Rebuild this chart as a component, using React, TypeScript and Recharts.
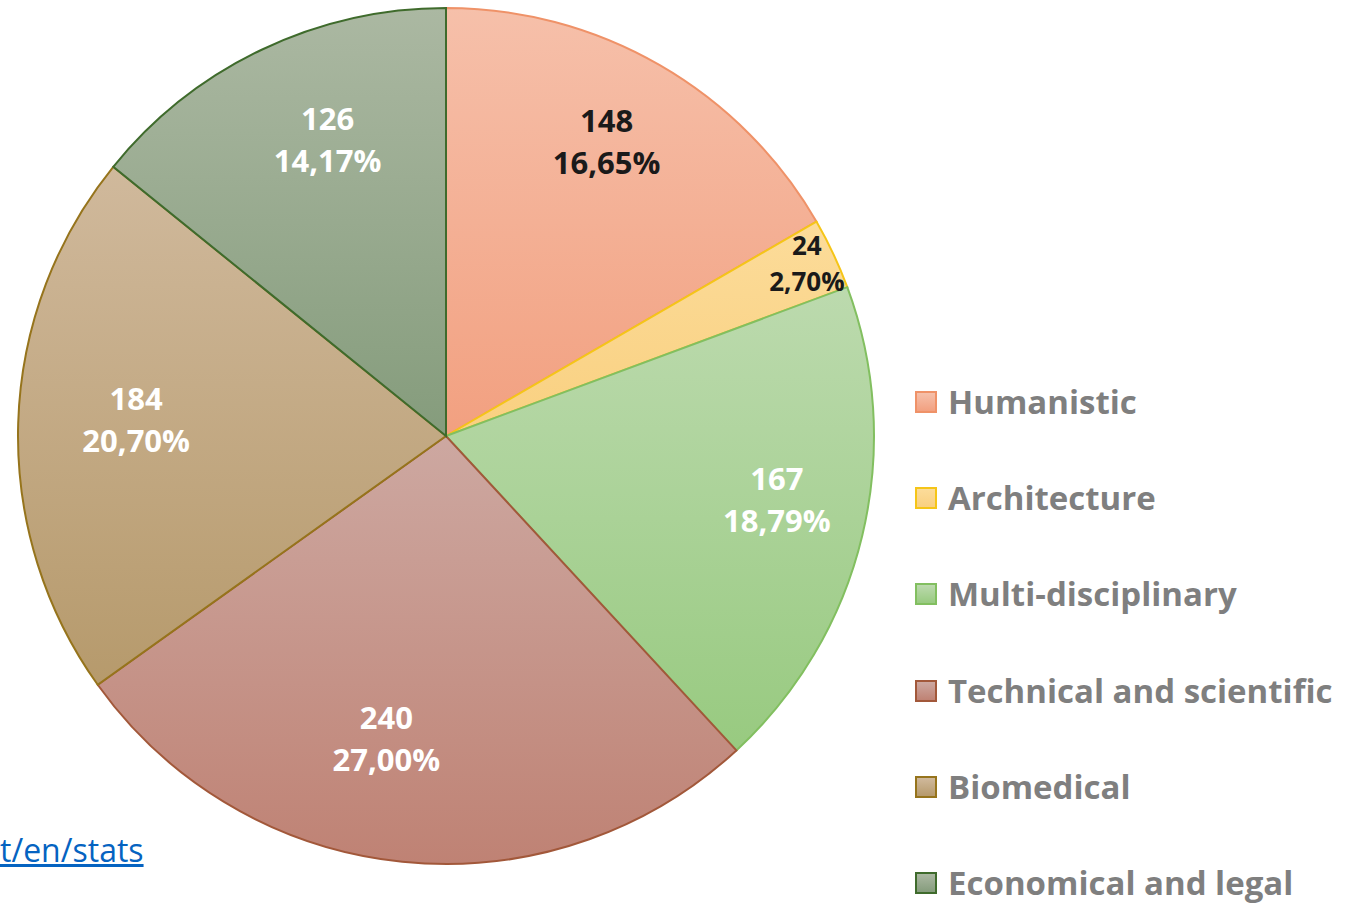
import React from 'react';
import { PieChart, Pie, Cell, Legend } from 'recharts';

const categories = [
  'Humanistic',
  'Architecture',
  'Multi-disciplinary',
  'Technical and scientific',
  'Biomedical',
  'Economical and legal',
];
const counts = [148, 24, 167, 240, 184, 126];

const total = counts.reduce((a, b) => a + b, 0);
const data = categories.map((name, i) => ({ name, value: counts[i] }));

// gradient top / bottom, border
const fillTop = ['#f6c0aa', '#fcdc9a', '#bcdaae', '#cda8a1', '#d0b99c', '#abb8a2'];
const fillBottom = ['#f2a080', '#f9d080', '#98ca80', '#bf8274', '#b69a6c', '#859c7c'];
const strokes = ['#ef9268', '#f5c518', '#82bf60', '#a2583a', '#96741c', '#3f6b2c'];
const labelInk = ['#1a1a1a', '#1a1a1a', '#ffffff', '#ffffff', '#ffffff', '#ffffff'];
// excel "best fit" label placement: share of radius, and clockwise nudge in degrees
const labelRadius = [0.785, 0.935, 0.787, 0.72, 0.725, 0.748];
const labelNudge = [-1.4, -0.4, -2.7, 5.3, 1.5, 3.8];

const RADIAN = Math.PI / 180;
const FONT = '"Open Sans", Lato, sans-serif';

const fmtPct = (v: number) => ((v / total) * 100).toFixed(2).replace('.', ',') + '%';

const SliceLabel = (props: any) => {
  const { cx, cy, midAngle, outerRadius, value, index, percent } = props;
  const small = percent < 0.05;
  const r = outerRadius * labelRadius[index];
  const a = (midAngle - labelNudge[index]) * RADIAN;
  const x = cx + r * Math.cos(-a);
  const y = cy + r * Math.sin(-a);
  const fs = small ? 26 : 31;
  const gap = small ? 18 : 21;
  return (
    <text
      x={x}
      y={y}
      fill={labelInk[index]}
      textAnchor="middle"
      dominantBaseline="central"
      fontFamily={FONT}
      fontWeight={700}
      fontSize={fs}
    >
      <tspan x={x} y={y - gap}>{value}</tspan>
      <tspan x={x} y={y + gap}>{fmtPct(value)}</tspan>
    </text>
  );
};

const LegendBox = () => (
  <div style={{ fontFamily: FONT }}>
    {categories.map((c, i) => (
      <div
        key={c}
        style={{ display: 'flex', alignItems: 'center', height: 96.2 }}
      >
        <div
          style={{
            width: 18,
            height: 18,
            background: `linear-gradient(${fillTop[i]}, ${fillBottom[i]})`,
            border: `2px solid ${strokes[i]}`,
            marginRight: 11,
          }}
        />
        <span style={{ fontSize: 33, lineHeight: '36px', fontWeight: 700, color: '#7f7f7f' }}>
          {c}
        </span>
      </div>
    ))}
  </div>
);

export default function App() {
  return (
    <div
      style={{
        position: 'absolute',
        left: 0,
        top: 0,
        width: 1347,
        height: 904,
        overflow: 'hidden',
        background: '#ffffff',
      }}
    >
      <PieChart width={1347} height={904} margin={{ top: 0, right: 0, bottom: 0, left: 0 }}>
        <defs>
          {categories.map((c, i) => (
            <linearGradient key={c} id={`g${i}`} x1="0" y1="0" x2="0" y2="1">
              <stop offset="0%" stopColor={fillTop[i]} />
              <stop offset="100%" stopColor={fillBottom[i]} />
            </linearGradient>
          ))}
        </defs>
        <Pie
          data={data}
          dataKey="value"
          nameKey="name"
          cx={446}
          cy={436}
          outerRadius={428}
          startAngle={90}
          endAngle={-270}
          label={SliceLabel}
          labelLine={false}
          isAnimationActive={false}
        >
          {data.map((d, i) => (
            <Cell key={d.name} fill={`url(#g${i})`} stroke={strokes[i]} strokeWidth={2} />
          ))}
        </Pie>
        <Legend
          content={LegendBox}
          layout="vertical"
          wrapperStyle={{ left: 915, top: 354, width: 432 }}
        />
      </PieChart>
      <div
        style={{
          position: 'absolute',
          left: 0,
          top: 828,
          fontFamily: '"Open Sans", sans-serif',
          fontSize: 32,
          color: '#0563c1',
          textDecoration: 'underline',
          whiteSpace: 'nowrap',
        }}
      >
        t/en/stats
      </div>
    </div>
  );
}
